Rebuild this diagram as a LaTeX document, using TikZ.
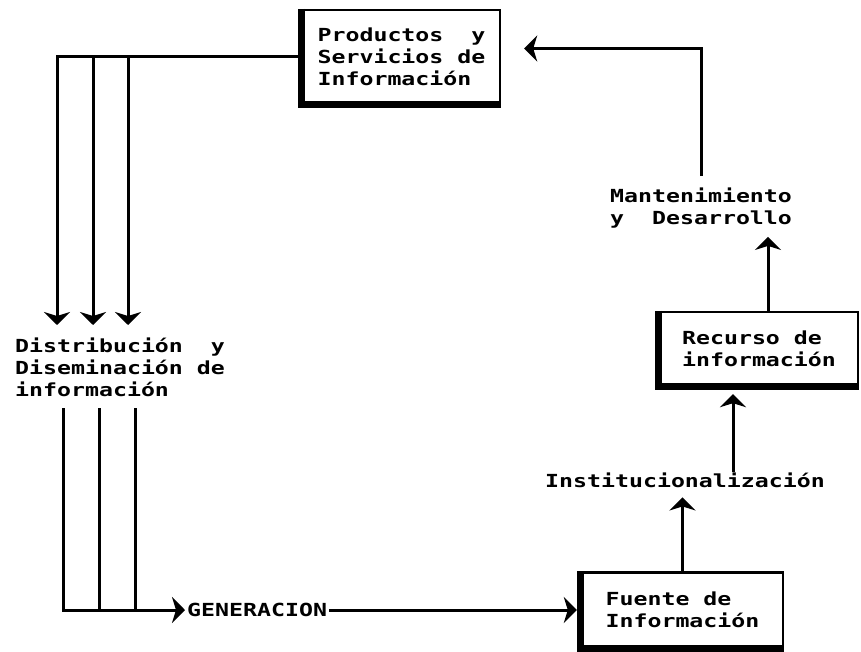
\documentclass[tikz,border=0pt]{standalone}
\usepackage{fontspec}
\usetikzlibrary{arrows.meta}
\newfontfamily\dotmatrix[FakeStretch=1.29]{DejaVu Sans Mono Bold}
\tikzset{
  flow/.style={line width=3pt, -{Stealth[length=13pt,width=26pt,inset=4pt]}},
  plain/.style={line width=3pt},
  infobox/.style={draw, line width=2.4pt, align=left, font=\dotmatrix\fontsize{18}{22}\selectfont},
  lbl/.style={align=left, inner sep=0pt, font=\dotmatrix\fontsize{18}{22}\selectfont}
}
\begin{document}
\begin{tikzpicture}[x=1pt,y=-1pt]
  \useasboundingbox (0,0) rectangle (861,652);
  % boxes
  \node[infobox, minimum width=197pt, minimum height=93pt] (prod) at (401.5,56.5) {Productos\ \ y\\Servicios de\\Información};
  \node[infobox, minimum width=198pt, minimum height=73pt] (recurso) at (759,348.5) {Recurso de\\información};
  \node[infobox, minimum width=201pt, minimum height=75pt] (fuente) at (682.5,610) {Fuente de\\Información};
  \foreach \b in {prod,recurso,fuente}
    \draw[line width=7pt] (\b.north west) -- (\b.south west) -- (\b.south east);
  % labels
  \node[lbl, anchor=base west] (dist) at (15,396) {Distribución\ \ y\\Diseminación de\\información};
  \node[lbl, anchor=base west] (mant) at (610,225) {Mantenimiento\\y\ \ Desarrollo};
  \node[lbl, anchor=base west] (instit) at (545,487) {Institucionalización};
  \node[lbl, anchor=west, inner sep=2pt] (gen) at (185,610) {GENERACION};
  % distribution drops
  \foreach \x [count=\i] in {57,93,128}
    \coordinate (hit\i) at (\x,325);
  \draw[flow] (prod.west) -| (hit1);
  \foreach \i in {2,3}
    \draw[flow] (hit\i |- prod.west) -- (hit\i);
  \foreach \x [count=\i] in {63,99,135}
    \coordinate (rise\i) at (\x,408);
  \draw[flow] (rise1) |- (gen.west);
  \foreach \i in {2,3}
    \draw[plain] (rise\i) -- (rise\i |- gen.west);
  % cycle
  \draw[flow, shorten >=4pt] (gen.east) -- (fuente.west);
  \draw[flow] (fuente.north) -- ([yshift=-10pt]instit.south -| fuente.north);
  \draw[flow] ([xshift=48pt]instit.north) -- ([xshift=48pt,yshift=-8pt]instit.north |- recurso.south);
  \draw[flow] ([xshift=9pt]recurso.north) -- ([xshift=9pt,yshift=-8pt]recurso.north |- mant.south);
  \draw[flow] ([yshift=12pt]mant.north) |- ([xshift=23pt,yshift=8pt]prod.east);
\end{tikzpicture}
\end{document}
